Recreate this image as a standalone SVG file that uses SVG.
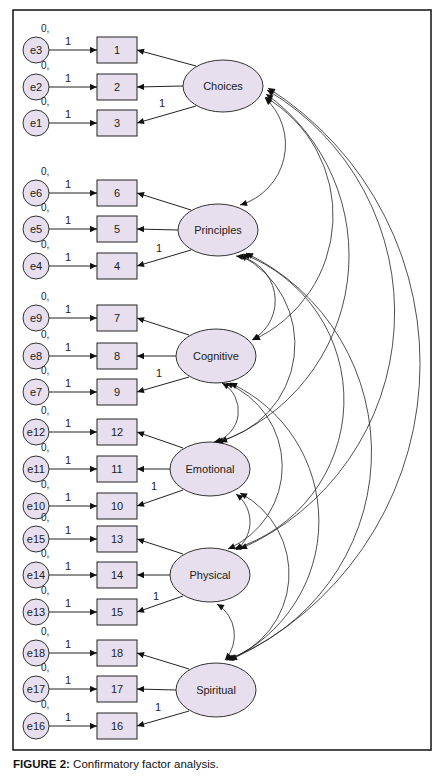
<svg xmlns="http://www.w3.org/2000/svg" width="444" height="780" viewBox="0 0 444 780">
<defs>
<marker id="ah" viewBox="0 0 10 10" refX="10" refY="5" markerWidth="8" markerHeight="7" markerUnits="userSpaceOnUse" orient="auto-start-reverse"><path d="M0,0.5 L10,5 L0,9.5 z" fill="#111"/></marker>
<style>
text{font-family:"Liberation Sans",Arial,sans-serif;font-size:11px;fill:#222}
.c{text-anchor:middle}
.err{fill:#e7dfed;stroke:#333;stroke-width:1}
.box{fill:#e7dfed;stroke:#222;stroke-width:1}
.lat{fill:#e7dfed;stroke:#333;stroke-width:1}
.ln{stroke:#222;stroke-width:1;fill:none;marker-end:url(#ah)}
.cv{stroke:#222;stroke-width:0.8;fill:none;marker-start:url(#ah);marker-end:url(#ah)}
.z{font-size:10px}
</style>
</defs>
<rect x="13" y="10" width="418" height="740" fill="#fff" stroke="#111" stroke-width="1.5"/>

<!-- error nodes -->
<g id="e3"><circle class="err" cx="36" cy="50" r="13"/><text class="c" x="36" y="54">e3</text><text class="z" x="41" y="32">0,</text></g>
<g id="e2"><circle class="err" cx="36" cy="87" r="13"/><text class="c" x="36" y="91">e2</text><text class="z" x="41" y="69">0,</text></g>
<g id="e1"><circle class="err" cx="36" cy="123" r="13"/><text class="c" x="36" y="127">e1</text><text class="z" x="41" y="105">0,</text></g>
<g id="e6"><circle class="err" cx="36" cy="193" r="13"/><text class="c" x="36" y="197">e6</text><text class="z" x="41" y="175">0,</text></g>
<g id="e5"><circle class="err" cx="36" cy="229" r="13"/><text class="c" x="36" y="233">e5</text><text class="z" x="41" y="211">0,</text></g>
<g id="e4"><circle class="err" cx="36" cy="266" r="13"/><text class="c" x="36" y="270">e4</text><text class="z" x="41" y="248">0,</text></g>
<g id="e9"><circle class="err" cx="36" cy="318" r="13"/><text class="c" x="36" y="322">e9</text><text class="z" x="41" y="300">0,</text></g>
<g id="e8"><circle class="err" cx="36" cy="356" r="13"/><text class="c" x="36" y="360">e8</text><text class="z" x="41" y="338">0,</text></g>
<g id="e7"><circle class="err" cx="36" cy="392" r="13"/><text class="c" x="36" y="396">e7</text><text class="z" x="41" y="374">0,</text></g>
<g id="e12"><circle class="err" cx="36" cy="432" r="13"/><text class="c" x="36" y="436">e12</text><text class="z" x="41" y="414">0,</text></g>
<g id="e11"><circle class="err" cx="36" cy="469" r="13"/><text class="c" x="36" y="473">e11</text><text class="z" x="41" y="451">0,</text></g>
<g id="e10"><circle class="err" cx="36" cy="506" r="13"/><text class="c" x="36" y="510">e10</text><text class="z" x="41" y="488">0,</text></g>
<g id="e15"><circle class="err" cx="36" cy="539" r="13"/><text class="c" x="36" y="543">e15</text><text class="z" x="41" y="521">0,</text></g>
<g id="e14"><circle class="err" cx="36" cy="575" r="13"/><text class="c" x="36" y="579">e14</text><text class="z" x="41" y="557">0,</text></g>
<g id="e13"><circle class="err" cx="36" cy="612" r="13"/><text class="c" x="36" y="616">e13</text><text class="z" x="41" y="594">0,</text></g>
<g id="e18"><circle class="err" cx="36" cy="653" r="13"/><text class="c" x="36" y="657">e18</text><text class="z" x="41" y="635">0,</text></g>
<g id="e17"><circle class="err" cx="36" cy="689" r="13"/><text class="c" x="36" y="693">e17</text><text class="z" x="41" y="671">0,</text></g>
<g id="e16"><circle class="err" cx="36" cy="726" r="13"/><text class="c" x="36" y="730">e16</text><text class="z" x="41" y="708">0,</text></g>

<!-- observed -->
<g id="v1"><rect class="box" x="97" y="37" width="40" height="26"/><text class="c" x="117" y="54">1</text></g>
<g id="v2"><rect class="box" x="97" y="74" width="40" height="26"/><text class="c" x="117" y="91">2</text></g>
<g id="v3"><rect class="box" x="97" y="110" width="40" height="26"/><text class="c" x="117" y="127">3</text></g>
<g id="v6"><rect class="box" x="97" y="180" width="40" height="26"/><text class="c" x="117" y="197">6</text></g>
<g id="v5"><rect class="box" x="97" y="216" width="40" height="26"/><text class="c" x="117" y="233">5</text></g>
<g id="v4"><rect class="box" x="97" y="253" width="40" height="26"/><text class="c" x="117" y="270">4</text></g>
<g id="v7"><rect class="box" x="97" y="305" width="40" height="26"/><text class="c" x="117" y="322">7</text></g>
<g id="v8"><rect class="box" x="97" y="343" width="40" height="26"/><text class="c" x="117" y="360">8</text></g>
<g id="v9"><rect class="box" x="97" y="379" width="40" height="26"/><text class="c" x="117" y="396">9</text></g>
<g id="v12"><rect class="box" x="97" y="419" width="40" height="26"/><text class="c" x="117" y="436">12</text></g>
<g id="v11"><rect class="box" x="97" y="456" width="40" height="26"/><text class="c" x="117" y="473">11</text></g>
<g id="v10"><rect class="box" x="97" y="493" width="40" height="26"/><text class="c" x="117" y="510">10</text></g>
<g id="v13"><rect class="box" x="97" y="526" width="40" height="26"/><text class="c" x="117" y="543">13</text></g>
<g id="v14"><rect class="box" x="97" y="562" width="40" height="26"/><text class="c" x="117" y="579">14</text></g>
<g id="v15"><rect class="box" x="97" y="599" width="40" height="26"/><text class="c" x="117" y="616">15</text></g>
<g id="v18"><rect class="box" x="97" y="640" width="40" height="26"/><text class="c" x="117" y="657">18</text></g>
<g id="v17"><rect class="box" x="97" y="676" width="40" height="26"/><text class="c" x="117" y="693">17</text></g>
<g id="v16"><rect class="box" x="97" y="713" width="40" height="26"/><text class="c" x="117" y="730">16</text></g>

<!-- latent -->
<g id="Choices"><ellipse class="lat" cx="223" cy="86" rx="40" ry="26"/><text class="c" x="223" y="90">Choices</text></g>
<g id="Principles"><ellipse class="lat" cx="218" cy="230" rx="40" ry="26"/><text class="c" x="218" y="234">Principles</text></g>
<g id="Cognitive"><ellipse class="lat" cx="216" cy="356" rx="40" ry="27"/><text class="c" x="216" y="360">Cognitive</text></g>
<g id="Emotional"><ellipse class="lat" cx="210" cy="469" rx="40" ry="27"/><text class="c" x="210" y="473">Emotional</text></g>
<g id="Physical"><ellipse class="lat" cx="210" cy="575" rx="40" ry="27"/><text class="c" x="210" y="579">Physical</text></g>
<g id="Spiritual"><ellipse class="lat" cx="216" cy="690" rx="40" ry="27"/><text class="c" x="216" y="694">Spiritual</text></g>

<g id="connectors">
<g class="ln">
<line x1="49" y1="50" x2="97" y2="50"/><line x1="49" y1="87" x2="97" y2="87"/><line x1="49" y1="123" x2="97" y2="123"/>
<line x1="49" y1="193" x2="97" y2="193"/><line x1="49" y1="229" x2="97" y2="229"/><line x1="49" y1="266" x2="97" y2="266"/>
<line x1="49" y1="318" x2="97" y2="318"/><line x1="49" y1="356" x2="97" y2="356"/><line x1="49" y1="392" x2="97" y2="392"/>
<line x1="49" y1="432" x2="97" y2="432"/><line x1="49" y1="469" x2="97" y2="469"/><line x1="49" y1="506" x2="97" y2="506"/>
<line x1="49" y1="539" x2="97" y2="539"/><line x1="49" y1="575" x2="97" y2="575"/><line x1="49" y1="612" x2="97" y2="612"/>
<line x1="49" y1="653" x2="97" y2="653"/><line x1="49" y1="689" x2="97" y2="689"/><line x1="49" y1="726" x2="97" y2="726"/>
<line x1="196" y1="66" x2="137" y2="50"/><line x1="183" y1="86" x2="137" y2="87"/><line x1="196" y1="106" x2="137" y2="123"/>
<line x1="191" y1="210" x2="137" y2="193"/><line x1="178" y1="230" x2="137" y2="229"/><line x1="191" y1="250" x2="137" y2="266"/>
<line x1="189" y1="335" x2="137" y2="318"/><line x1="176" y1="356" x2="137" y2="356"/><line x1="189" y1="377" x2="137" y2="392"/>
<line x1="183" y1="448" x2="137" y2="432"/><line x1="170" y1="469" x2="137" y2="469"/><line x1="183" y1="490" x2="137" y2="506"/>
<line x1="183" y1="554" x2="137" y2="539"/><line x1="170" y1="575" x2="137" y2="575"/><line x1="183" y1="596" x2="137" y2="612"/>
<line x1="189" y1="669" x2="137" y2="653"/><line x1="176" y1="690" x2="137" y2="689"/><line x1="189" y1="711" x2="137" y2="726"/>
</g>
<path class="cv" d="M265,98 A63 63 0 0 1 240,205"/>
<path class="cv" d="M265,97 A137 137 0 0 1 253,340"/>
<path class="cv" d="M266,94 A199 199 0 0 1 220,442"/>
<path class="cv" d="M267,90 A258 258 0 0 1 240,549"/>
<path class="cv" d="M268,88 A326 326 0 0 1 230,660"/>
<path class="cv" d="M236,256 A45 45 0 0 1 252,340"/>
<path class="cv" d="M240,255 A100 100 0 0 1 216,442"/>
<path class="cv" d="M243,254 A156 156 0 0 1 234,549"/>
<path class="cv" d="M246,253 A221 221 0 0 1 226,660"/>
<path class="cv" d="M222,383 A32 32 0 0 1 214,442"/>
<path class="cv" d="M226,383 A90 90 0 0 1 228,549"/>
<path class="cv" d="M230,383 A152 152 0 0 1 229,660"/>
<path class="cv" d="M236,494 A35 35 0 0 1 236,550"/>
<path class="cv" d="M240,493 A91 91 0 0 1 227,660"/>
<path class="cv" d="M217,604 A37 37 0 0 1 225,660"/>
</g>

<g id="labels">
<text x="65" y="45">1</text><text x="65" y="82">1</text><text x="65" y="118">1</text>
<text x="65" y="188">1</text><text x="65" y="224">1</text><text x="65" y="261">1</text>
<text x="65" y="313">1</text><text x="65" y="351">1</text><text x="65" y="387">1</text>
<text x="65" y="427">1</text><text x="65" y="464">1</text><text x="65" y="501">1</text>
<text x="65" y="534">1</text><text x="65" y="570">1</text><text x="65" y="607">1</text>
<text x="65" y="648">1</text><text x="65" y="684">1</text><text x="65" y="721">1</text>
<text x="159" y="107">1</text><text x="156" y="252">1</text><text x="156" y="377">1</text>
<text x="151" y="490">1</text><text x="153" y="600">1</text><text x="155" y="711">1</text>
</g>

<text x="13" y="768" style="font-size:11.5px;fill:#111"><tspan font-weight="bold">FIGURE 2:</tspan> Confirmatory factor analysis.</text>
</svg>
